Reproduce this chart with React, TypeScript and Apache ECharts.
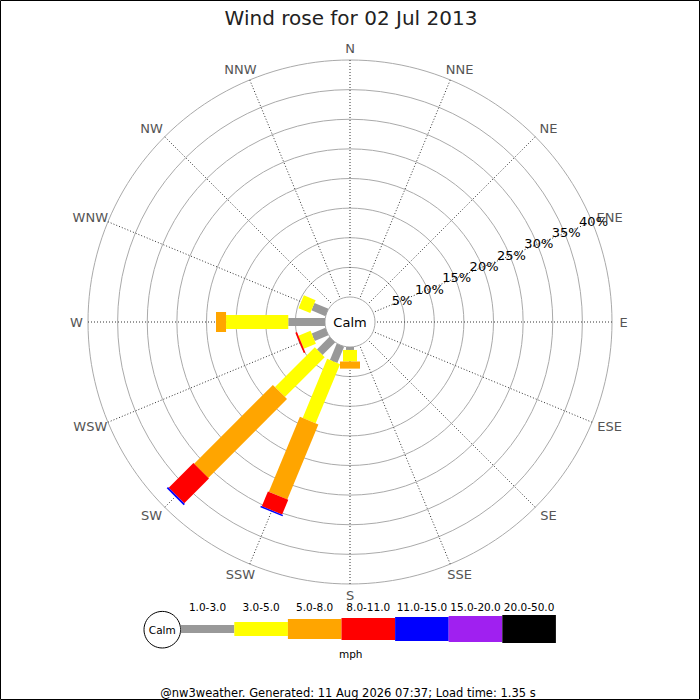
import { useEffect, useRef } from "react";
import * as echarts from "echarts";

const directions = ["N", "NNE", "NE", "ENE", "E", "ESE", "SE", "SSE", "S", "SSW", "SW", "WSW", "W", "WNW", "NW", "NNW"];
const speedRanges = ["1.0-3.0", "3.0-5.0", "5.0-8.0", "8.0-11.0", "11.0-15.0", "15.0-20.0", "20.0-50.0"];
const rangeColors = ["#999999", "#ffff00", "#ffa500", "#ff0000", "#0000ff", "#a020f0", "#000000"];
const legWidths = [8, 14, 20, 22, 24, 26, 28];

// percent of the day, per direction (N .. NNW), per speed range
const pct1to3 = [0, 0, 0, 0, 0, 0, 0, 0, 0.5, 3.0, 3.0, 2.5, 6.2, 2.55, 0, 0];
const pct3to5 = [0, 0, 0, 0, 0, 0, 0, 0, 1.95, 10.8, 9.5, 2.2, 10.5, 2.15, 0, 0];
const pct5to8 = [0, 0, 0, 0, 0, 0, 0, 0, 1.2, 13.7, 18.8, 0, 1.7, 0, 0, 0];
const pct8to11 = [0, 0, 0, 0, 0, 0, 0, 0, 0, 2.7, 5.9, 0.3, 0, 0, 0, 0];
const pct11to15 = [0, 0, 0, 0, 0, 0, 0, 0, 0, 0.25, 0.3, 0, 0, 0, 0, 0];
const pct15to20 = [0, 0, 0, 0, 0, 0, 0, 0, 0, 0, 0, 0, 0, 0, 0, 0];
const pct20to50 = [0, 0, 0, 0, 0, 0, 0, 0, 0, 0, 0, 0, 0, 0, 0, 0];

// ring labels (percent)
const ringTicks = [5, 10, 15, 20, 25, 30, 35, 40];
const ringMax = 40;
const ringStep = 5;

const titleText = "Wind rose for 02 Jul 2013";
const footerText = "@nw3weather. Generated: 11 Aug 2026 07:37; Load time: 1.35 s";
const unitText = "mph";

const FONT = "DejaVu Sans";

const toAxisAngle = (deg: number) => (deg < 67.5 ? deg + 360 : deg);

export default function App() {
  const ref = useRef<HTMLDivElement>(null);

  useEffect(() => {
    if (!ref.current) return;
    const chart = echarts.init(ref.current, null, { renderer: "svg" });

    const ranges = [pct1to3, pct3to5, pct5to8, pct8to11, pct11to15, pct15to20, pct20to50];
    // segments: [angle, r0, r1, rangeIndex]; angle axis starts at ENE (67.5)
    const segs: number[][] = [];
    directions.forEach((_, d) => {
      let acc = 0;
      const ang = toAxisAngle(d * 22.5);
      ranges.forEach((arr, k) => {
        const v = arr[d];
        if (v > 0) {
          segs.push([ang, acc, acc + v, k]);
          acc += v;
        }
      });
    });

    // legend
    const lx0 = 180.7;
    const lw = 53.6;
    const ly = 629;
    const legend: any[] = [
      {
        type: "circle",
        shape: { cx: 162.3, cy: 629.7, r: 18.3 },
        style: { fill: "#fff", stroke: "#000", lineWidth: 1 },
      },
      {
        type: "text",
        x: 162.3,
        y: 630,
        style: { text: "Calm", fill: "#000", fontSize: 10.5, fontFamily: FONT, align: "center", verticalAlign: "middle" },
      },
    ];
    speedRanges.forEach((lab, k) => {
      legend.push({
        type: "rect",
        shape: { x: lx0 + k * lw, y: ly - legWidths[k] / 2, width: lw, height: legWidths[k] },
        style: { fill: rangeColors[k] },
      });
      legend.push({
        type: "text",
        x: lx0 + k * lw + lw / 2,
        y: 607,
        style: { text: lab, fill: "#000", fontSize: 10.5, fontFamily: FONT, align: "center", verticalAlign: "middle" },
      });
    });

    chart.setOption({
      animation: false,
      polar: { center: [350, 322], radius: [25, 262] },
      angleAxis: {
        type: "value",
        min: 67.5,
        max: 427.5,
        interval: 22.5,
        startAngle: 22.5,
        clockwise: true,
        axisLine: { show: false },
        axisTick: { show: false },
        axisLabel: { show: false },
        splitLine: { show: true, lineStyle: { color: "#333333", width: 1, type: [1, 2] } },
      },
      radiusAxis: {
        type: "value",
        min: 0,
        max: ringMax,
        interval: ringStep,
        axisLine: { show: false },
        axisTick: { show: false },
        axisLabel: { show: false },
        splitLine: { show: true, lineStyle: { color: "#aaaaaa", width: 1 } },
      },
      series: [
        {
          type: "custom",
          coordinateSystem: "polar",
          data: segs,
          encode: { angle: 0, radius: 2 },
          renderItem: (params: any, api: any) => {
            const ang = api.value(0);
            const r0 = api.value(1);
            const r1 = api.value(2);
            const k = api.value(3);
            const p0 = api.coord([r0, ang]);
            const p1 = api.coord([r1, ang]);
            const dx = p1[0] - p0[0];
            const dy = p1[1] - p0[1];
            const len = Math.hypot(dx, dy) || 1;
            const hw = legWidths[k] / 2;
            const nx = (-dy / len) * hw;
            const ny = (dx / len) * hw;
            return {
              type: "polygon",
              shape: {
                points: [
                  [p0[0] + nx, p0[1] + ny],
                  [p1[0] + nx, p1[1] + ny],
                  [p1[0] - nx, p1[1] - ny],
                  [p0[0] - nx, p0[1] - ny],
                ],
              },
              style: { fill: rangeColors[k] },
            };
          },
        },
      ],
    });

    // compass labels, placed just outside the outer ring through the polar system
    const labelR = ringMax * (273.5 - 25) / (262 - 25);
    const dirLabels = directions.map((name, i) => {
      const deg = i * 22.5;
      const p = chart.convertToPixel({ polarIndex: 0 } as any, [labelR, toAxisAngle(deg)]) as number[];
      const s = Math.sin((deg * Math.PI) / 180);
      const cardinal = i % 4 === 0;
      const shift = cardinal ? 0 : Math.sign(s) * (Math.abs(s) > 0.9 ? 7 : 5);
      return {
        type: "text",
        x: p[0] + shift,
        y: p[1],
        style: { text: name, fill: "#555555", fontSize: 13, fontFamily: FONT, align: "center", verticalAlign: "middle" },
      };
    });

    // ring labels along the ENE spoke
    const ringLabels = ringTicks.map((v) => {
      const p = chart.convertToPixel({ polarIndex: 0 } as any, [v, 67.5]) as number[];
      return {
        type: "text",
        x: p[0] + 1.5,
        y: p[1] - 0.5,
        style: { text: v + "%", fill: "#000", fontSize: 13, fontFamily: FONT, align: "center", verticalAlign: "middle" },
      };
    });

    chart.setOption({
      graphic: [
        {
          type: "rect",
          shape: { x: 0.5, y: 0.5, width: 699, height: 699 },
          style: { fill: "none", stroke: "#000", lineWidth: 1 },
        },
        {
          type: "text",
          x: 351,
          y: 17.5,
          style: { text: titleText, fill: "#222", fontSize: 20, fontFamily: FONT, align: "center", verticalAlign: "middle" },
        },
        {
          type: "text",
          x: 350,
          y: 322,
          style: { text: "Calm", fill: "#000", fontSize: 13, fontFamily: FONT, align: "center", verticalAlign: "middle" },
        },
        ...dirLabels,
        ...ringLabels,
        ...legend,
        {
          type: "text",
          x: 350.7,
          y: 654,
          style: { text: unitText, fill: "#000", fontSize: 10.5, fontFamily: FONT, align: "center", verticalAlign: "middle" },
        },
        {
          type: "text",
          x: 348,
          y: 692.5,
          style: { text: footerText, fill: "#000", fontSize: 11.5, fontFamily: FONT, align: "center", verticalAlign: "middle" },
        },
      ],
    });

    return () => chart.dispose();
  }, []);

  return (
    <div
      ref={ref}
      style={{ position: "fixed", left: 0, top: 0, width: 700, height: 700, background: "#fff" }}
    />
  );
}
